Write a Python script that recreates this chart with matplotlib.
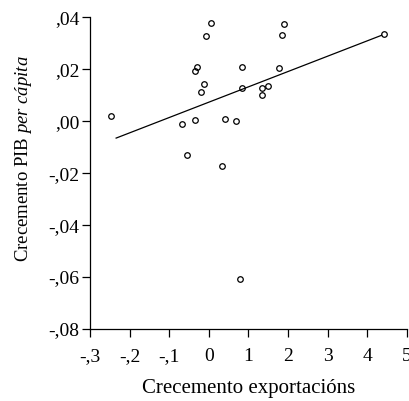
import numpy as np
import matplotlib
matplotlib.use("Agg")
import matplotlib.pyplot as plt

plt.rcParams["font.family"] = ["Liberation Serif", "DejaVu Serif"]
plt.rcParams["mathtext.fontset"] = "custom"
plt.rcParams["mathtext.rm"] = "Liberation Serif"
plt.rcParams["mathtext.it"] = "Liberation Serif:italic"

# export growth vs GDP per capita growth
export_growth = [-2.46, -0.68, -0.35, -0.56, -0.36, -0.29, -0.13, -0.20, -0.07, 0.06,
                 0.40, 0.68, 0.33, 0.85, 0.83, 1.35, 1.49, 1.35, 1.78, 1.86,
                 1.91, 4.42, 0.78]
gdp_growth = [0.0020, -0.0010, 0.0004, -0.0131, 0.0193, 0.0209, 0.0145, 0.0112, 0.0328, 0.0378,
              0.0009, 0.0002, -0.0171, 0.0208, 0.0129, 0.0129, 0.0136, 0.0101, 0.0204, 0.0331,
              0.0375, 0.0337, -0.0606]

# fitted line end points
fit_x = [-2.34, 4.37]
fit_y = [-0.0065, 0.0331]

x_ticks = [-3, -2, -1, 0, 1, 2, 3, 4, 5]
x_tick_labels = ["-,3", "-,2", "-,1", "0", "1", "2", "3", "4", "5"]
y_ticks = [0.04, 0.02, 0.00, -0.02, -0.04, -0.06, -0.08]
y_tick_labels = [",04", ",02", ",00", "-,02", "-,04", "-,06", "-,08"]

fig = plt.figure(figsize=(4.10, 4.01), dpi=100)
ax = fig.add_axes([90 / 410, (401 - 329) / 401, 316.7 / 410, (329 - 17.3) / 401])

ax.plot(fit_x, fit_y, color="black", lw=0.9)
ax.plot(export_growth, gdp_growth, "o", ms=4, mfc="none", mec="black", mew=0.9)

ax.set_xlim(-3, 5)
ax.set_ylim(-0.08, 0.04)
ax.set_xticks(x_ticks)
ax.set_xticklabels(x_tick_labels)
ax.set_yticks(y_ticks)
ax.set_yticklabels(y_tick_labels)

for side in ["top", "right"]:
    ax.spines[side].set_visible(False)
for side in ["left", "bottom"]:
    ax.spines[side].set_linewidth(0.9)

ax.tick_params(axis="both", direction="out", length=5.5, width=0.9, labelsize=14, colors="black")
ax.tick_params(axis="y", pad=2)
ax.tick_params(axis="x", pad=8)

ax.set_xlabel("Crecemento exportacións", fontsize=15, va="center")
ax.set_ylabel("Crecemento PIB $\\mathit{per\\ cápita}$", fontsize=13.5, va="center")
ax.xaxis.set_label_coords(0.5, (329 - 388) / 311.7)
ax.yaxis.set_label_coords((24 - 90) / 316.7, (329 - 159) / 311.7)

fig.savefig("out.png", dpi=100)
